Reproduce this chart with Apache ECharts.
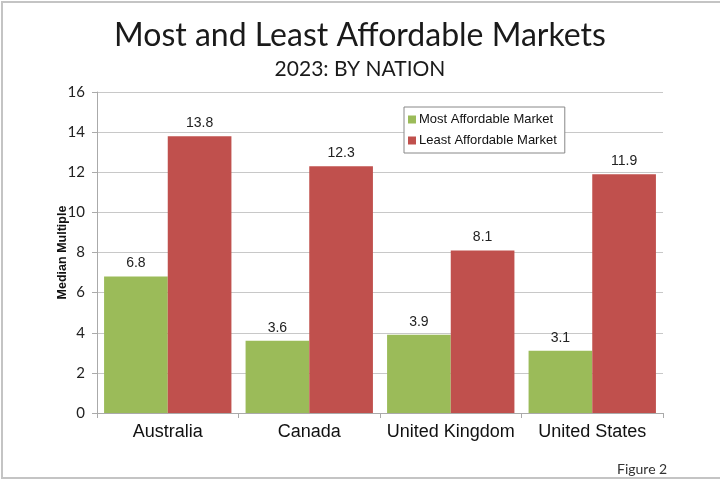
<!DOCTYPE html>
<html>
<head>
<meta charset="utf-8">
<script src="https://cdn.jsdelivr.net/npm/echarts@6/dist/echarts.min.js"></script>
<style>html,body{margin:0;padding:0;background:#fff}#c{width:720px;height:483px}</style>
</head>
<body>
<div id="c"></div>
<script>
const categories = ["Australia", "Canada", "United Kingdom", "United States"];
const mostAffordable = [6.8, 3.6, 3.9, 3.1];
const leastAffordable = [13.8, 12.3, 8.1, 11.9];
const seriesNames = ["Most Affordable Market", "Least Affordable Market"];
const yTicks = { min: 0, max: 16, interval: 2 };

const narrow = '"Liberation Sans Narrow", "Arial Narrow", "Liberation Sans", sans-serif';
const chart = echarts.init(document.getElementById('c'), null, { renderer: 'canvas' });
chart.setOption({
  backgroundColor: '#ffffff',
  animation: false,
  title: [
    { text: 'Most and Least Affordable Markets', left: 'center', top: 15,
      textStyle: { fontFamily: 'Lato, "Open Sans", sans-serif', fontSize: 32, fontWeight: 'normal', color: '#1a1a1a' } },
    { text: '2023: BY NATION', left: 'center', top: 54,
      textStyle: { fontFamily: 'Lato, "Open Sans", sans-serif', fontSize: 21, fontWeight: 'normal', color: '#1a1a1a' } },
    { text: 'Figure 2', left: 612, top: 457,
      textStyle: { fontFamily: 'Lato, sans-serif', fontSize: 14, fontWeight: 'normal', color: '#333' } }
  ],
  graphic: [
    { type: 'rect', shape: { x: 2, y: 2, width: 740, height: 476 }, silent: true,
      style: { fill: 'none', stroke: '#c4c4c4', lineWidth: 2 } }
  ],
  legend: {
    orient: 'vertical', left: 404, top: 107, itemWidth: 8, itemHeight: 8, itemGap: 8,
    borderColor: '#888', borderWidth: 1, backgroundColor: '#fff', padding: [6, 8, 6, 4],
    icon: 'rect',
    textStyle: { fontFamily: narrow, fontSize: 13, color: '#111', padding: [0, 0, 0, -2] },
    data: seriesNames
  },
  grid: { left: 97, right: 57, top: 92, bottom: 70, containLabel: false },
  xAxis: {
    type: 'category', data: categories,
    axisLine: { lineStyle: { color: '#aaa' } },
    axisTick: { show: true, length: 5, lineStyle: { color: '#aaa' } },
    axisLabel: { interval: 0, fontFamily: narrow, fontSize: 18, color: '#111', margin: 10 }
  },
  yAxis: {
    type: 'value', min: yTicks.min, max: yTicks.max, interval: yTicks.interval,
    name: 'Median Multiple', nameLocation: 'middle', nameGap: 28, nameRotate: 90,
    nameMoveOverlap: false,
    nameTextStyle: { fontFamily: '"Liberation Sans", sans-serif', fontWeight: 'bold', fontSize: 12.5, color: '#111' },
    axisLine: { show: true, lineStyle: { color: '#aaa' } },
    axisTick: { show: true, length: 5, lineStyle: { color: '#aaa' } },
    axisLabel: { fontFamily: 'Lato, sans-serif', fontSize: 15, color: '#222', margin: 12 },
    splitLine: { lineStyle: { color: '#c8c8c8' } }
  },
  series: [
    { name: seriesNames[0], type: 'bar', data: mostAffordable, barGap: '0%', barCategoryGap: '10%',
      itemStyle: { color: '#9BBB59' },
      label: { show: true, position: 'top', distance: 6, fontFamily: narrow, fontSize: 14, color: '#222' } },
    { name: seriesNames[1], type: 'bar', data: leastAffordable, barGap: '0%', barCategoryGap: '10%',
      itemStyle: { color: '#C0504D' },
      label: { show: true, position: 'top', distance: 6, fontFamily: narrow, fontSize: 14, color: '#222' } }
  ]
});
</script>
</body>
</html>
